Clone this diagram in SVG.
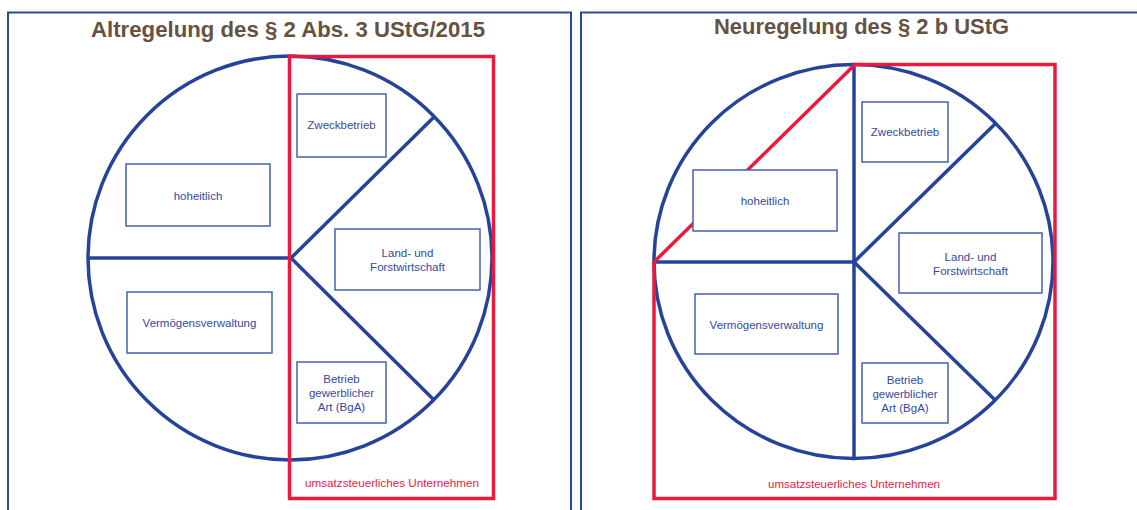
<svg xmlns="http://www.w3.org/2000/svg" width="1137" height="510" viewBox="0 0 1137 510">
  <style>
    .panel { fill: none; stroke: #2a4a9e; stroke-width: 2; }
    .title { font-family: "Liberation Sans", Arial, sans-serif; font-size: 22px; font-weight: bold; fill: #665142; text-anchor: middle; }
    .wheel { fill: none; stroke: #26439a; stroke-width: 3.5; }
    .scope { fill: none; stroke: #ea1a3f; stroke-width: 3.5; stroke-linejoin: miter; }
    .box rect { fill: #ffffff; stroke: #4661b0; stroke-width: 1.5; }
    .box text { font-family: "Liberation Sans", Arial, sans-serif; font-size: 11.5px; fill: #3549a2; text-anchor: middle; }
    .scope-label { font-family: "Liberation Sans", Arial, sans-serif; font-size: 11.5px; fill: #ea1a3f; text-anchor: middle; }
  </style>

  <rect width="1137" height="510" fill="#ffffff"/>

  <!-- left panel: previous rule -->
  <g id="panel-old">
    <rect class="panel" x="8" y="12.5" width="563" height="520"/>
    <text class="title" x="288" y="37" textLength="394" lengthAdjust="spacingAndGlyphs">Altregelung des § 2 Abs. 3 UStG/2015</text>
  </g>

  <g id="wheel-old">
    <circle class="wheel" cx="290" cy="258" r="202"/>
    <line class="wheel" x1="88" y1="258" x2="291" y2="258"/>
    <line class="wheel" x1="291" y1="258" x2="434" y2="117"/>
    <line class="wheel" x1="291" y1="258" x2="434" y2="400"/>
  </g>

  <g id="scope-old">
    <rect class="scope" x="289.5" y="56.5" width="204" height="442"/>
    <text class="scope-label" x="392" y="487" textLength="174" lengthAdjust="spacingAndGlyphs">umsatzsteuerliches Unternehmen</text>
  </g>

  <g id="old-zweckbetrieb" class="box">
    <rect x="297" y="94" width="89" height="63"/>
    <text x="341.5" y="129">Zweckbetrieb</text>
  </g>
  <g id="old-hoheitlich" class="box">
    <rect x="126" y="164" width="144" height="62"/>
    <text x="198" y="200">hoheitlich</text>
  </g>
  <g id="old-vermoegen" class="box">
    <rect x="127" y="292" width="145" height="61"/>
    <text x="199.5" y="327">Vermögensverwaltung</text>
  </g>
  <g id="old-landforst" class="box">
    <rect x="335" y="229" width="145" height="61"/>
    <text x="407.5" y="257">Land- und</text>
    <text x="407.5" y="271">Forstwirtschaft</text>
  </g>
  <g id="old-bga" class="box">
    <rect x="297" y="362" width="89" height="61"/>
    <text x="341.5" y="383">Betrieb</text>
    <text x="341.5" y="397">gewerblicher</text>
    <text x="341.5" y="411">Art (BgA)</text>
  </g>

  <!-- right panel: new rule -->
  <g id="panel-new">
    <rect class="panel" x="581" y="12.5" width="580" height="520"/>
    <text class="title" x="861.5" y="34" textLength="295" lengthAdjust="spacingAndGlyphs">Neuregelung des § 2 b UStG</text>
  </g>

  <g id="wheel-new">
    <ellipse class="wheel" cx="853.5" cy="261.5" rx="199.5" ry="197"/>
    <line class="wheel" x1="655" y1="262" x2="854" y2="262"/>
    <line class="wheel" x1="854" y1="64" x2="854" y2="459"/>
    <line class="wheel" x1="854" y1="262" x2="995" y2="124"/>
    <line class="wheel" x1="854" y1="262" x2="995" y2="400"/>
  </g>

  <g id="scope-new">
    <path class="scope" d="M855 64.5 H1055 V498.5 H654 V262 Z"/>
    <text class="scope-label" x="854" y="487.5" textLength="172" lengthAdjust="spacingAndGlyphs">umsatzsteuerliches Unternehmen</text>
  </g>

  <g id="new-zweckbetrieb" class="box">
    <rect x="862" y="102" width="86" height="60"/>
    <text x="905" y="136">Zweckbetrieb</text>
  </g>
  <g id="new-hoheitlich" class="box">
    <rect x="693" y="170" width="144" height="61"/>
    <text x="765" y="205">hoheitlich</text>
  </g>
  <g id="new-vermoegen" class="box">
    <rect x="695" y="294" width="143" height="60"/>
    <text x="766.5" y="329">Vermögensverwaltung</text>
  </g>
  <g id="new-landforst" class="box">
    <rect x="899" y="233" width="143" height="60"/>
    <text x="970.5" y="261">Land- und</text>
    <text x="970.5" y="275">Forstwirtschaft</text>
  </g>
  <g id="new-bga" class="box">
    <rect x="862" y="363" width="86" height="60"/>
    <text x="905" y="384">Betrieb</text>
    <text x="905" y="398">gewerblicher</text>
    <text x="905" y="412">Art (BgA)</text>
  </g>
</svg>
